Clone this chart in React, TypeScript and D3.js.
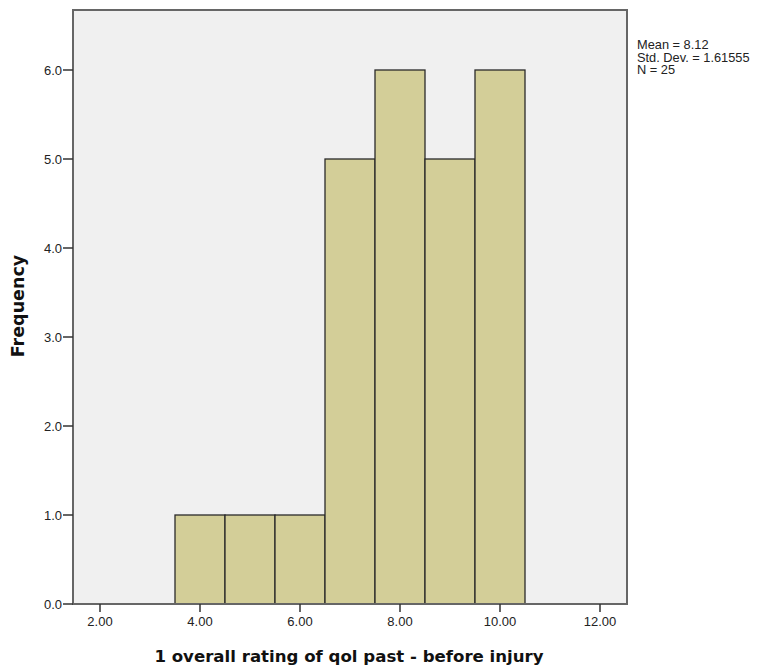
import React from "react";
import * as d3 from "d3";

const binStarts = [3.5, 4.5, 5.5, 6.5, 7.5, 8.5, 9.5];
const binWidth = 1;
const frequencies = [1, 1, 1, 5, 6, 5, 6];
const xTicks = [2, 4, 6, 8, 10, 12];
const yTicks = [0, 1, 2, 3, 4, 5, 6];
const statsLines = ["Mean = 8.12", "Std. Dev. = 1.61555", "N = 25"];
const xTitle = "1 overall rating of qol past - before injury";
const yTitle = "Frequency";

export default function App() {
  const W = 770, H = 672;
  const left = 73, right = 627, top = 10, bottom = 604;
  const x = d3.scaleLinear().domain([1.46, 12.54]).range([left, right]);
  const y = d3.scaleLinear().domain([0, 6]).range([bottom, bottom - 534]);
  const font = "'Liberation Sans', Arial, sans-serif";
  const boldFont = "'DejaVu Sans', Verdana, sans-serif";
  return (
    <svg width={W} height={H} style={{ position: "absolute", left: 0, top: 0 }} fontFamily={font}>
      <rect x={left} y={top} width={right - left} height={bottom - top} fill="#f0f0f0" />
      {binStarts.map((b, i) => (
        <rect
          key={i}
          x={x(b)}
          y={y(frequencies[i])}
          width={x(b + binWidth) - x(b)}
          height={y(0) - y(frequencies[i])}
          fill="#d3ce98"
          stroke="#2a2a2a"
          strokeWidth={1.3}
        />
      ))}
      <rect x={left} y={top} width={right - left} height={bottom - top} fill="none" stroke="#666" strokeWidth={2} />
      {yTicks.map((t) => (
        <g key={t}>
          <line x1={left - 10} x2={left} y1={y(t)} y2={y(t)} stroke="#333" strokeWidth={1.5} />
          <text x={left - 11} y={y(t)} dy="0.35em" textAnchor="end" fontSize={13} fill="#222">
            {t.toFixed(1)}
          </text>
        </g>
      ))}
      {xTicks.map((t) => (
        <g key={t}>
          <line x1={x(t)} x2={x(t)} y1={bottom} y2={bottom + 8} stroke="#333" strokeWidth={1.5} />
          <text x={x(t)} y={bottom + 22} textAnchor="middle" fontSize={13} fill="#222">
            {t.toFixed(2)}
          </text>
        </g>
      ))}
      <text x={349} y={662} textAnchor="middle" fontSize={16.6} fontWeight="bold" fill="#111" fontFamily={boldFont}>
        {xTitle}
      </text>
      <text
        transform={`translate(24,306) rotate(-90)`}
        textAnchor="middle"
        fontSize={17.5}
        fontWeight="bold"
        fill="#111"
        fontFamily={boldFont}
      >
        {yTitle}
      </text>
      {statsLines.map((s, i) => (
        <text key={i} x={637} y={49 + i * 12.5} fontSize={12.8} fill="#222">
          {s}
        </text>
      ))}
    </svg>
  );
}
